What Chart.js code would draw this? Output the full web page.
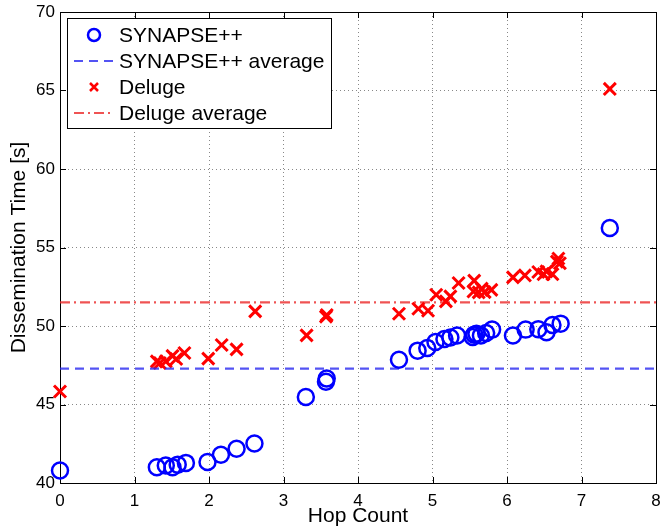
<!DOCTYPE html>
<html>
<head>
<meta charset="utf-8">
<script src="https://cdn.jsdelivr.net/npm/chart.js@4.4.1/dist/chart.umd.min.js"></script>
<style>
  html, body { margin: 0; padding: 0; background: #fff; }
</style>
</head>
<body>
<canvas id="chart" width="661" height="531"></canvas>
<script>
// values
const synapseX = [0, 1.30, 1.42, 1.51, 1.58, 1.69, 1.98, 2.16, 2.37, 2.61, 3.30, 3.57, 3.58,
    4.55, 4.80, 4.93, 5.04, 5.16, 5.24, 5.33, 5.54, 5.56, 5.59, 5.65, 5.72, 5.80,
    6.08, 6.25, 6.42, 6.53, 6.61, 6.72, 7.38];
const synapseY = [40.8, 41.0, 41.12, 41.0, 41.17, 41.28, 41.34, 41.8, 42.18, 42.52, 45.48, 46.45, 46.65,
    47.85, 48.43, 48.6, 48.98, 49.17, 49.27, 49.4, 49.3, 49.45, 49.5, 49.4, 49.55, 49.77,
    49.4, 49.77, 49.8, 49.6, 50.06, 50.15, 56.24];

const delugeX = [0, 1.30, 1.34, 1.42, 1.51, 1.56, 1.67, 1.99, 2.17, 2.37, 2.62, 3.31, 3.57, 3.58,
    4.55, 4.81, 4.94, 5.05, 5.18, 5.24, 5.35, 5.55, 5.56, 5.62, 5.66, 5.70, 5.79,
    6.08, 6.24, 6.42, 6.49, 6.53, 6.61, 6.67, 6.69, 6.71, 7.38];
const delugeY = [45.83, 47.75, 47.64, 47.75, 48.1, 47.9, 48.28, 47.92, 48.79, 48.51, 50.93, 49.4, 50.6, 50.7,
    50.78, 51.1, 50.97, 51.99, 51.57, 51.89, 52.74, 52.2, 52.89, 52.14, 52.38, 52.16, 52.3,
    53.1, 53.22, 53.44, 53.3, 53.48, 53.3, 54.1, 54.3, 54.0, 65.1];

const synapseAvg = 47.28;
const delugeAvg = 51.5;

const xTicks = [0, 1, 2, 3, 4, 5, 6, 7, 8];
const yTicks = [40, 45, 50, 55, 60, 65, 70];

const FONT = 'Liberation Sans, Arial, Helvetica, sans-serif';

function toPoints(xs, ys) {
    return xs.map((x, i) => ({ x: x, y: ys[i] }));
}

// black box with inward ticks, matlab style
const framePlugin = {
    id: 'frame',
    beforeDatasetsDraw(chart) {
        const ctx = chart.ctx;
        const a = chart.chartArea;
        const xs = chart.scales.x, ys = chart.scales.y;
        ctx.save();
        ctx.strokeStyle = '#000';
        ctx.lineWidth = 1;
        ctx.strokeRect(a.left + 0.5, a.top + 0.5, a.right - a.left, a.bottom - a.top);
        ctx.beginPath();
        xTicks.forEach(t => {
            const px = Math.round(xs.getPixelForValue(t)) + 0.5;
            ctx.moveTo(px, a.bottom); ctx.lineTo(px, a.bottom - 6);
            ctx.moveTo(px, a.top); ctx.lineTo(px, a.top + 6);
        });
        yTicks.forEach(t => {
            const py = Math.round(ys.getPixelForValue(t)) + 0.5;
            ctx.moveTo(a.left, py); ctx.lineTo(a.left + 6, py);
            ctx.moveTo(a.right, py); ctx.lineTo(a.right - 6, py);
        });
        ctx.stroke();
        ctx.restore();
    }
};

const legendPlugin = {
    id: 'boxLegend',
    afterDraw(chart) {
        const ctx = chart.ctx;
        const x0 = 67, y0 = 18, w = 264, h = 110;
        ctx.save();
        ctx.fillStyle = '#fff';
        ctx.fillRect(x0, y0, w, h);
        ctx.strokeStyle = '#000';
        ctx.lineWidth = 1;
        ctx.strokeRect(x0 + 0.5, y0 + 0.5, w, h);
        ctx.font = '21px ' + FONT;
        ctx.textBaseline = 'middle';
        chart.data.datasets.forEach((ds, i) => {
            const cy = y0 + 17 + i * 26;
            ctx.save();
            if (ds.type === 'line') {
                ctx.strokeStyle = ds.borderColor;
                ctx.lineWidth = ds.borderWidth;
                ctx.setLineDash(ds.borderDash);
                ctx.beginPath();
                ctx.moveTo(74, cy); ctx.lineTo(114, cy);
                ctx.stroke();
            } else if (ds.pointStyle === 'circle') {
                ctx.strokeStyle = ds.borderColor;
                ctx.lineWidth = 2.5;
                ctx.beginPath();
                ctx.arc(94, cy, 6, 0, Math.PI * 2);
                ctx.stroke();
            } else {
                ctx.strokeStyle = ds.borderColor;
                ctx.lineWidth = 2.5;
                ctx.beginPath();
                ctx.moveTo(90, cy - 4); ctx.lineTo(98, cy + 4);
                ctx.moveTo(98, cy - 4); ctx.lineTo(90, cy + 4);
                ctx.stroke();
            }
            ctx.restore();
            ctx.fillStyle = '#000';
            ctx.fillText(ds.label, 119, cy + 1);
        });
        ctx.restore();
    }
};

const ctx = document.getElementById('chart').getContext('2d');
const chart = new Chart(ctx, {
    type: 'scatter',
    data: {
        datasets: [{
            label: 'SYNAPSE++',
            data: toPoints(synapseX, synapseY),
            pointStyle: 'circle',
            radius: 8,
            borderWidth: 2.5,
            borderColor: '#0000ff',
            backgroundColor: 'rgba(0,0,0,0)'
        }, {
            type: 'line',
            label: 'SYNAPSE++ average',
            data: [{ x: 0, y: synapseAvg }, { x: 8, y: synapseAvg }],
            borderColor: 'rgba(40,40,240,0.8)',
            borderWidth: 2.2,
            borderDash: [9, 6],
            pointRadius: 0,
            fill: false
        }, {
            label: 'Deluge',
            data: toPoints(delugeX, delugeY),
            pointStyle: 'crossRot',
            radius: 8.5,
            borderWidth: 3,
            borderColor: '#ff0000',
            backgroundColor: '#ff0000'
        }, {
            type: 'line',
            label: 'Deluge average',
            data: [{ x: 0, y: delugeAvg }, { x: 8, y: delugeAvg }],
            borderColor: 'rgba(235,40,40,0.8)',
            borderWidth: 2.2,
            borderDash: [10, 4, 2, 4],
            pointRadius: 0,
            fill: false
        }]
    },
    options: {
        responsive: false,
        animation: false,
        clip: false,
        layout: { autoPadding: false, padding: { top: 12, right: 5, left: 0, bottom: 0 } },
        plugins: {
            legend: { display: false },
            tooltip: { enabled: false }
        },
        scales: {
            x: {
                type: 'linear',
                min: 0,
                max: 8,
                afterFit: s => { s.height = 48; s.paddingLeft = 0; s.paddingRight = 0; },
                afterBuildTicks: s => { s.ticks = xTicks.map(v => ({ value: v })); },
                grid: { color: '#888', drawTicks: false, lineWidth: 1 },
                border: { display: false, dash: [1, 3] },
                ticks: { color: '#000', padding: 8, font: { family: FONT, size: 17 } },
                title: { display: true, text: 'Hop Count', color: '#000',
                         font: { family: FONT, size: 21 }, padding: { top: 0, bottom: 2 } }
            },
            y: {
                type: 'linear',
                min: 40,
                max: 70,
                afterFit: s => { s.width = 60; s.paddingTop = 0; s.paddingBottom = 0; },
                afterBuildTicks: s => { s.ticks = yTicks.map(v => ({ value: v })); },
                grid: { color: '#888', drawTicks: false, lineWidth: 1 },
                border: { display: false, dash: [1, 3] },
                ticks: { color: '#000', padding: 5, font: { family: FONT, size: 17 } },
                title: { display: true, text: 'Dissemination Time [s]', color: '#000',
                         font: { family: FONT, size: 21 }, padding: { top: 7, bottom: 0 } }
            }
        }
    },
    plugins: [framePlugin, legendPlugin]
});
</script>
</body>
</html>
